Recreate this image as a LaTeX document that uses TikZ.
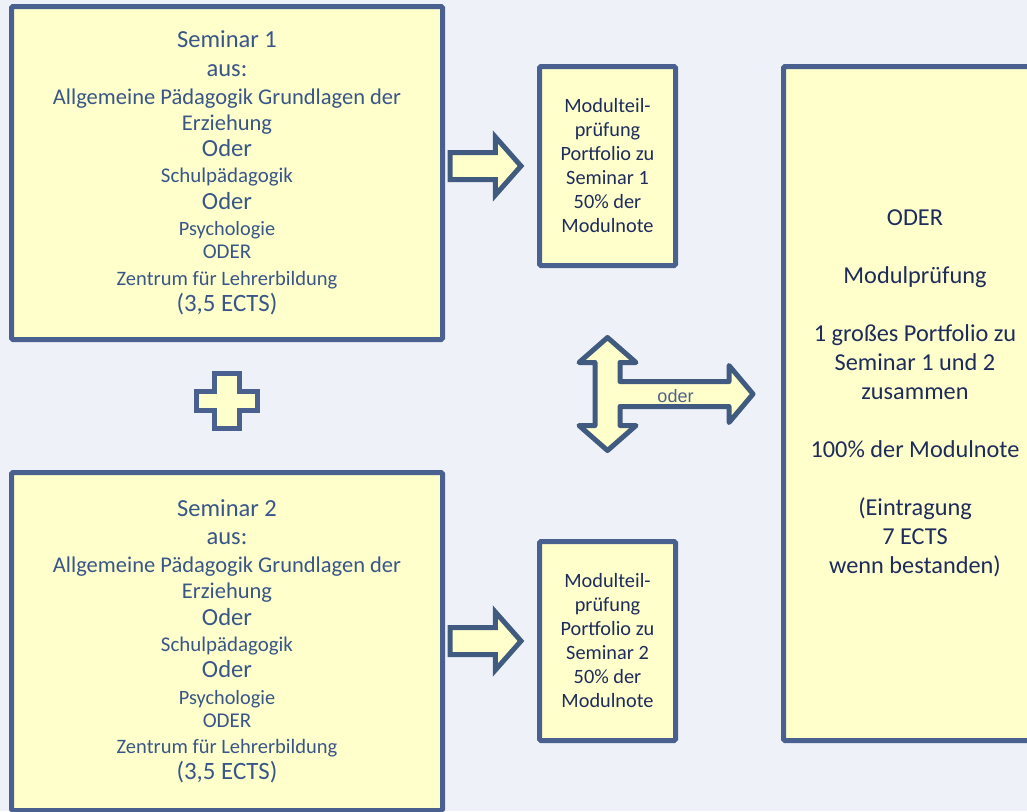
\documentclass[tikz,border=0pt]{standalone}
\usepackage{fontspec}
\setmainfont{Carlito}
\newfontfamily\odersans{Liberation Sans}
\usetikzlibrary{calc,shapes.arrows}
\definecolor{bgcol}{RGB}{238,242,248}
\definecolor{boxfill}{RGB}{255,255,204}
\definecolor{boxline}{RGB}{74,96,142}
\definecolor{arrline}{RGB}{64,90,128}
\definecolor{semtext}{RGB}{56,86,136}
\definecolor{darktext}{RGB}{30,44,92}
\definecolor{odertext}{RGB}{80,98,130}
\newcommand{\fsz}[2]{\fontsize{#1}{#2}\selectfont}
\newcommand{\semlines}[1]{%
	{\fsz{24.5}{26.3}Seminar #1}\\[2pt]
	{\fsz{24.5}{26.3}aus:}\\[1.5pt]
	{\fsz{22.5}{26.3}Allgemeine Pädagogik Grundlagen der}\\
	{\fsz{22.5}{26.3}Erziehung}\\
	{\fsz{24.6}{26.3}Oder}\\
	{\fsz{20.9}{26.3}Schulpädagogik}\\
	{\fsz{24.6}{26.3}Oder}\\
	{\fsz{20.3}{26.3}Psychologie}\\[-3pt]
	{\fsz{21}{26.3}ODER}\\
	{\fsz{20.5}{26.3}Zentrum für Lehrerbildung}\\
	{\fsz{24.9}{26.3}(3,5 ECTS)}}
\tikzset{
	box/.style={draw=boxline,fill=boxfill,line width=5pt,rectangle,rounded corners=1.5pt,align=center,inner sep=0pt},
	sembox/.style={box,minimum width=431pt,text=semtext,font=\fsz{22}{26.3}},
	teilbox/.style={box,minimum width=136pt,minimum height=199pt,text=darktext,font=\fsz{20.3}{24}},
	bigbox/.style={box,minimum width=263pt,minimum height=674pt},
	bigtext/.style={align=center,text=darktext,font=\fsz{24.3}{29}},
	blockarrow/.style={single arrow,draw=arrline,fill=boxfill,line width=5pt,inner xsep=0pt,inner ysep=11pt,outer sep=0pt,
		minimum height=71pt,minimum width=53pt,single arrow head extend=15.5pt,single arrow tip angle=97},
	fatarrow/.style={draw=arrline,fill=boxfill,line width=5pt,line join=round},
	plusshape/.style={draw=boxline,fill=boxfill,line width=5pt}
}
\begin{document}
\begin{tikzpicture}[x=1pt,y=-1pt]
	\clip (0,0) rectangle (1027,811);
	\fill[bgcol] (0,0) rectangle (1027,811);

	% seminars
	\node[sembox,minimum height=333pt] (sem1) at (227,173) {\semlines{1}};
	\node[sembox,minimum height=338pt] (sem2) at (227,641.5) {\semlines{2}};

	% module part exams
	\node[teilbox] (mt1) at (607.5,166) {Modulteil-\\prüfung\\Portfolio zu\\Seminar 1\\50\% der\\Modulnote};
	\node[teilbox] (mt2) at (607.5,641) {Modulteil-\\prüfung\\Portfolio zu\\Seminar 2\\50\% der\\Modulnote};

	% module exam
	\node[bigbox] (mp) at (915,403.5) {};
	\node[bigtext] (mptext) at ($(mp.center)+(0,-10)$) {ODER\\[29pt]Modulprüfung\\[29pt]1 großes Portfolio zu\\Seminar 1 und 2\\zusammen\\[29pt]100\% der Modulnote\\[29pt](Eintragung\\7 ECTS\\wenn bestanden)};

	\node[blockarrow,anchor=tail] (a1) at ($(sem1.east |- mt1.west)+(5,0)$) {};
	\node[blockarrow,anchor=tail] (a2) at ($(sem2.east |- mt2.west)+(5,0)$) {};

	% plus between the seminars
	\coordinate (plus) at ($(sem1.south)!0.46!(sem2.north)$);
	\begin{scope}[shift={(plus)}]
		\draw[plusshape] (-12.5,-27.5) -- (12.5,-27.5) -- (12.5,-9.5) -- (30.5,-9.5) -- (30.5,9.5) -- (12.5,9.5)
			-- (12.5,27.5) -- (-12.5,27.5) -- (-12.5,9.5) -- (-30.5,9.5) -- (-30.5,-9.5) -- (-12.5,-9.5) -- cycle;
	\end{scope}

	% oder arrow
	\coordinate (hub) at ($(mt1.south)!0.465!(mt2.north)$);
	\begin{scope}[shift={(hub)}]
		\draw[fatarrow] (0,-56.5) -- (28.5,-31.5) -- (12.5,-31.5) -- (12.5,-12.5) -- (121.5,-12.5) -- (121.5,-28.5)
			-- (145.5,0) -- (121.5,28.5) -- (121.5,12.5) -- (12.5,12.5) -- (12.5,31.5) -- (28.5,31.5) -- (0,56.5)
			-- (-28.5,31.5) -- (-12.5,31.5) -- (-12.5,-31.5) -- (-28.5,-31.5) -- cycle;
		\node[text=odertext,font=\odersans\fsz{18}{20}] (oder) at (68,2.5) {oder};
	\end{scope}
\end{tikzpicture}
\end{document}
